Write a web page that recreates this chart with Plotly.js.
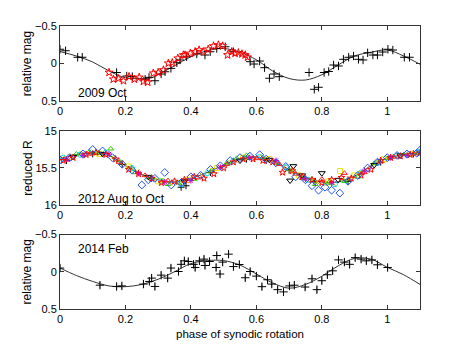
<!DOCTYPE html>
<html>
<head>
<meta charset="utf-8">
<script src="https://cdn.plot.ly/plotly-3.0.1.min.js"></script>
<style>
  html, body { margin: 0; padding: 0; background: #fff; }
  #plot { width: 463px; height: 348px; }
</style>
</head>
<body>
<div id="plot"></div>
<script>
// three lightcurves folded on the synodic period

// --- 2009 Oct ---
let fit09Phase = [0, 0.05, 0.1, 0.15, 0.2, 0.25, 0.28, 0.3, 0.35, 0.4, 0.45, 0.5, 0.55, 0.6, 0.65, 0.7, 0.75, 0.8, 0.85, 0.9, 0.95, 1.0, 1.05, 1.1]
let fit09Mag = [-0.16, -0.10, -0.02, 0.10, 0.19, 0.20, 0.19, 0.15, 0.03, -0.09, -0.17, -0.20, -0.15, -0.05, 0.10, 0.20, 0.22, 0.15, 0.02, -0.10, -0.15, -0.18, -0.10, 0.01]

let blk09Phase = [0, 0.017, 0.054, 0.068, 0.173, 0.204, 0.221, 0.26, 0.272, 0.29, 0.309, 0.321, 0.339, 0.357, 0.367, 0.387, 0.418, 0.443, 0.459, 0.479, 0.505, 0.53, 0.581, 0.593, 0.61, 0.625, 0.64, 0.654, 0.67, 0.761, 0.777, 0.79, 0.807, 0.821, 0.836, 0.851, 0.866, 0.882, 0.897, 0.912, 0.926, 0.94, 0.956, 0.97, 0.986, 1.002, 1.017, 1.052, 1.068]
let blk09Mag = [-0.19, -0.17, -0.083, -0.083, 0.12, 0.167, 0.175, 0.21, 0.185, 0.23, 0.14, 0.11, 0.065, -0.01, -0.047, -0.09, -0.127, -0.113, -0.157, -0.2, -0.223, -0.157, -0.024, 0.007, -0.033, 0.056, 0.197, 0.14, 0.176, 0.12, 0.344, 0.317, 0.12, 0.107, 0.02, 0.033, -0.056, -0.083, -0.1, -0.056, -0.047, -0.143, -0.113, -0.113, -0.153, -0.19, -0.18, -0.083, -0.083]

let red09Phase = [0.15, 0.163, 0.178, 0.194, 0.211, 0.227, 0.242, 0.255, 0.268, 0.285, 0.3, 0.316, 0.331, 0.343, 0.36, 0.377, 0.382, 0.398, 0.413, 0.425, 0.438, 0.453, 0.469, 0.484, 0.497, 0.512, 0.525, 0.535, 0.545, 0.556, 0.566, 0.573]
let red09Mag = [0.12, 0.21, 0.2, 0.23, 0.175, 0.21, 0.185, 0.24, 0.25, 0.13, 0.12, 0.087, -0.003, -0.01, -0.07, -0.113, -0.113, -0.135, -0.157, -0.18, -0.157, -0.19, -0.233, -0.247, -0.233, -0.113, -0.157, -0.135, -0.143, -0.127, -0.113, -0.083]

// --- 2012 Aug to Oct (reduced R) ---
let fit12Phase = [0, 0.05, 0.1, 0.15, 0.2, 0.25, 0.3, 0.35, 0.4, 0.45, 0.5, 0.55, 0.6, 0.65, 0.7, 0.75, 0.8, 0.85, 0.9, 0.95, 1.0, 1.05, 1.1]
let fit12R = [15.38, 15.32, 15.29, 15.33, 15.47, 15.59, 15.66, 15.69, 15.64, 15.56, 15.46, 15.38, 15.35, 15.41, 15.52, 15.63, 15.69, 15.69, 15.61, 15.47, 15.37, 15.32, 15.29]

let bluePhase = [0, 0.03, 0.07, 0.1, 0.13, 0.16, 0.19, 0.22, 0.25, 0.27, 0.29, 0.32, 0.34, 0.37, 0.4, 0.43, 0.46, 0.49, 0.52, 0.55, 0.58, 0.61, 0.63, 0.66, 0.69, 0.72, 0.75, 0.77, 0.79, 0.81, 0.83, 0.855, 0.88, 0.91, 0.94, 0.97, 1.0, 1.03, 1.06, 1.09, 1.1]
let blueR = [15.39, 15.36, 15.31, 15.25, 15.27, 15.36, 15.45, 15.53, 15.73, 15.66, 15.64, 15.56, 15.73, 15.7, 15.62, 15.6, 15.52, 15.47, 15.4, 15.36, 15.34, 15.32, 15.38, 15.43, 15.48, 15.62, 15.66, 15.74, 15.8, 15.76, 15.8, 15.84, 15.68, 15.6, 15.5, 15.42, 15.36, 15.33, 15.31, 15.3, 15.26]

let redPhase = [0.01, 0.04, 0.08, 0.11, 0.14, 0.17, 0.21, 0.24, 0.28, 0.31, 0.35, 0.38, 0.41, 0.44, 0.47, 0.5, 0.53, 0.56, 0.59, 0.62, 0.65, 0.68, 0.71, 0.74, 0.77, 0.8, 0.83, 0.86, 0.89, 0.92, 0.95, 0.98, 1.01, 1.04, 1.07, 1.1]
let redR = [15.4, 15.36, 15.32, 15.29, 15.32, 15.38, 15.52, 15.58, 15.64, 15.7, 15.68, 15.66, 15.62, 15.64, 15.58, 15.5, 15.42, 15.38, 15.38, 15.4, 15.42, 15.56, 15.54, 15.62, 15.66, 15.7, 15.66, 15.63, 15.64, 15.6, 15.52, 15.4, 15.36, 15.34, 15.32, 15.3]

let redTriPhase = [0.02, 0.09, 0.18, 0.26, 0.33, 0.42, 0.51, 0.6, 0.67, 0.72, 0.8, 0.869, 0.93, 1.02, 1.08]
let redTriR = [15.39, 15.31, 15.42, 15.6, 15.67, 15.63, 15.45, 15.37, 15.45, 15.58, 15.65, 15.57, 15.56, 15.35, 15.31]

let greenPhase = [0, 0.05, 0.09, 0.12, 0.155, 0.18, 0.23, 0.28, 0.33, 0.36, 0.41, 0.46, 0.51, 0.54, 0.57, 0.62, 0.66, 0.7, 0.74, 0.78, 0.82, 0.87, 0.91, 0.96, 1.0, 1.05, 1.09]
let greenR = [15.37, 15.31, 15.28, 15.3, 15.24, 15.4, 15.56, 15.63, 15.72, 15.7, 15.65, 15.55, 15.43, 15.37, 15.33, 15.36, 15.43, 15.52, 15.64, 15.72, 15.7, 15.68, 15.62, 15.44, 15.37, 15.32, 15.3]

let limePhase = [0.015, 0.065, 0.115, 0.165, 0.215, 0.265, 0.315, 0.365, 0.415, 0.465, 0.515, 0.565, 0.615, 0.665, 0.715, 0.765, 0.815, 0.865, 0.915, 0.965, 1.015, 1.065]
let limeR = [15.37, 15.31, 15.29, 15.36, 15.5, 15.62, 15.67, 15.7, 15.63, 15.53, 15.43, 15.37, 15.35, 15.43, 15.55, 15.66, 15.71, 15.67, 15.57, 15.43, 15.35, 15.31]

let orangePhase = [0.035, 0.085, 0.135, 0.185, 0.235, 0.285, 0.335, 0.385, 0.435, 0.485, 0.535, 0.585, 0.635, 0.685, 0.735, 0.785, 0.835, 0.885, 0.935, 0.985, 1.035, 1.085]
let orangeR = [15.35, 15.3, 15.31, 15.43, 15.55, 15.65, 15.7, 15.67, 15.6, 15.5, 15.4, 15.36, 15.38, 15.49, 15.6, 15.69, 15.71, 15.64, 15.52, 15.4, 15.33, 15.3]

let yellowPhase = [0.03, 0.12, 0.21, 0.3, 0.39, 0.48, 0.56, 0.64, 0.73, 0.82, 0.856, 0.9, 0.99, 1.07]
let yellowR = [15.35, 15.31, 15.48, 15.68, 15.66, 15.5, 15.36, 15.38, 15.6, 15.68, 15.54, 15.6, 15.38, 15.31]

let cyanPhase = [0.01, 0.06, 0.14, 0.22, 0.31, 0.37, 0.45, 0.53, 0.61, 0.69, 0.76, 0.84, 0.92, 0.97, 1.03, 1.1]
let cyanR = [15.36, 15.32, 15.29, 15.5, 15.68, 15.72, 15.57, 15.4, 15.35, 15.49, 15.66, 15.72, 15.56, 15.43, 15.33, 15.28]

let magentaPhase = [0.02, 0.07, 0.15, 0.24, 0.32, 0.4, 0.49, 0.58, 0.66, 0.75, 0.83, 0.93, 1.01, 1.06]
let magentaR = [15.38, 15.33, 15.31, 15.57, 15.69, 15.67, 15.49, 15.36, 15.4, 15.65, 15.7, 15.54, 15.36, 15.33]

let triDownPhase = [0.04, 0.13, 0.27, 0.38, 0.55, 0.64, 0.703, 0.713, 0.74, 0.8, 0.85, 0.96, 1.04]
let triDownR = [15.35, 15.31, 15.62, 15.68, 15.4, 15.39, 15.67, 15.475, 15.6, 15.57, 15.66, 15.46, 15.33]

let crossPhase = [0.02, 0.1, 0.19, 0.28, 0.37, 0.385, 0.46, 0.57, 0.63, 0.7, 0.78, 0.88, 0.98, 1.08]
let crossR = [15.4, 15.31, 15.45, 15.64, 15.76, 15.74, 15.56, 15.38, 15.4, 15.53, 15.68, 15.68, 15.42, 15.31]

// --- 2014 Feb ---
let fit14Phase = [0, 0.05, 0.1, 0.15, 0.2, 0.25, 0.3, 0.35, 0.4, 0.45, 0.5, 0.55, 0.6, 0.65, 0.7, 0.75, 0.8, 0.85, 0.9, 0.95, 1.0, 1.05, 1.1]
let fit14Mag = [-0.05, 0.05, 0.13, 0.19, 0.2, 0.17, 0.1, 0.0, -0.11, -0.15, -0.15, -0.09, 0.03, 0.15, 0.22, 0.17, 0.06, -0.08, -0.18, -0.17, -0.06, 0.04, 0.17]

let obs14Phase = [0, 0.122, 0.173, 0.189, 0.255, 0.273, 0.28, 0.29, 0.309, 0.329, 0.339, 0.362, 0.37, 0.38, 0.392, 0.408, 0.413, 0.426, 0.44, 0.443, 0.457, 0.479, 0.477, 0.489, 0.497, 0.515, 0.53, 0.548, 0.566, 0.581, 0.6, 0.617, 0.634, 0.647, 0.665, 0.683, 0.701, 0.716, 0.749, 0.77, 0.785, 0.8, 0.817, 0.833, 0.851, 0.869, 0.885, 0.902, 0.92, 0.936, 0.953, 0.97, 1.001]
let obs14Mag = [-0.05, 0.18, 0.197, 0.19, 0.165, 0.13, 0.085, 0.197, 0.045, 0.085, -0.05, -0.004, -0.1, -0.147, -0.138, -0.1, -0.058, -0.147, -0.17, -0.085, -0.138, -0.218, -0.058, 0.03, -0.13, -0.237, -0.07, -0.098, 0.08, -0.004, 0.058, 0.2, 0.107, 0.165, 0.24, 0.27, 0.19, 0.18, 0.205, 0.094, 0.24, 0.12, 0.04, -0.013, -0.16, -0.13, -0.1, -0.19, -0.17, -0.147, -0.16, -0.094, -0.058]
let obs14Err = obs14Phase.map(() => 0.045)

let xTicks = [0, 0.2, 0.4, 0.6, 0.8, 1]

const font = {family: 'Liberation Sans, Arial, sans-serif', size: 11, color: '#000'}

function mk(x, y, color, symbol, size, xa, ya) {
    return {
        x: x, y: y, xaxis: xa, yaxis: ya,
        type: 'scatter', mode: 'markers',
        marker: {symbol: symbol, size: size, color: color, line: {color: color, width: 1}},
        showlegend: false, hoverinfo: 'skip'
    }
}

function fitLine(x, y, xa, ya) {
    return {
        x: x, y: y, xaxis: xa, yaxis: ya,
        type: 'scatter', mode: 'lines',
        line: {color: '#333', width: 1, shape: 'spline', smoothing: 1},
        showlegend: false, hoverinfo: 'skip'
    }
}

let data = [
    fitLine(fit09Phase, fit09Mag, 'x', 'y'),
    mk(blk09Phase, blk09Mag, '#000', 'cross-thin-open', 6, 'x', 'y'),
    mk(red09Phase, red09Mag, '#ff0000', 'star-open', 6, 'x', 'y'),

    fitLine(fit12Phase, fit12R, 'x2', 'y2'),
    mk(crossPhase, crossR, '#000', 'cross-thin-open', 5, 'x2', 'y2'),
    mk(yellowPhase, yellowR, '#e8e800', 'square-open', 5, 'x2', 'y2'),
    mk(orangePhase, orangeR, '#ff8000', 'x-thin-open', 5, 'x2', 'y2'),
    mk(cyanPhase, cyanR, '#00e0e0', 'circle-open', 5, 'x2', 'y2'),
    mk(limePhase, limeR, '#a0e000', 'circle-open', 4, 'x2', 'y2'),
    mk(greenPhase, greenR, '#30d000', 'triangle-up-open', 5, 'x2', 'y2'),
    mk(magentaPhase, magentaR, '#d000d0', 'asterisk-open', 5, 'x2', 'y2'),
    mk(triDownPhase, triDownR, '#000', 'triangle-down-open', 6, 'x2', 'y2'),
    mk(redTriPhase, redTriR, '#ff2020', 'triangle-up-open', 5, 'x2', 'y2'),
    mk(redPhase, redR, '#ff0000', 'star-open', 5, 'x2', 'y2'),
    mk(bluePhase, blueR, '#2050ff', 'diamond-open', 6, 'x2', 'y2'),

    fitLine(fit14Phase, fit14Mag, 'x3', 'y3'),
    {
        x: obs14Phase, y: obs14Mag, xaxis: 'x3', yaxis: 'y3',
        type: 'scatter', mode: 'markers',
        marker: {symbol: 'cross-thin-open', size: 6, color: '#000', line: {color: '#000', width: 1}},
        error_y: {type: 'data', array: obs14Err, visible: true, color: '#888', thickness: 1, width: 0},
        showlegend: false, hoverinfo: 'skip'
    }
]

function xax(anchor) {
    return {
        anchor: anchor, domain: [0, 1], range: [0, 1.1],
        tickvals: xTicks, ticks: 'inside', ticklen: 4, tickcolor: '#333',
        showline: true, linecolor: '#333', linewidth: 1, mirror: 'ticks',
        showgrid: false, zeroline: false, tickfont: font
    }
}

function yax(anchor, dom, range, tv, title) {
    return {
        anchor: anchor, domain: dom, range: range,
        tickvals: tv, ticks: 'inside', ticklen: 4, tickcolor: '#333',
        showline: true, linecolor: '#333', linewidth: 1, mirror: 'ticks',
        showgrid: false, zeroline: false, tickfont: font,
        title: {text: title, font: {family: font.family, size: 12, color: '#000'}, standoff: 0}
    }
}

let layout = {
    width: 463, height: 348,
    paper_bgcolor: '#fff', plot_bgcolor: '#fff',
    margin: {l: 60, r: 43, t: 26, b: 39},
    font: font,
    xaxis: xax('y'),
    xaxis2: xax('y2'),
    xaxis3: Object.assign(xax('y3'), {title: {text: 'phase of synodic rotation', font: {family: font.family, size: 11.5, color: '#000'}, standoff: 5}}),
    yaxis: yax('x', [0.735, 1], [0.5, -0.5], [-0.5, 0, 0.5], 'relative mag'),
    yaxis2: yax('x2', [0.3675, 0.629], [16, 15], [15, 15.5, 16], 'reduced R'),
    yaxis3: yax('x3', [0, 0.263], [0.5, -0.5], [-0.5, 0, 0.5], 'relative mag'),
    annotations: [
        {text: '2009 Oct', xref: 'x', yref: 'y', x: 0.05, y: 0.39, xanchor: 'left', yanchor: 'middle', showarrow: false, font: {family: font.family, size: 12, color: '#000'}},
        {text: '2012 Aug to Oct', xref: 'x2', yref: 'y2', x: 0.05, y: 15.92, xanchor: 'left', yanchor: 'middle', showarrow: false, font: {family: font.family, size: 12, color: '#000'}},
        {text: '2014 Feb', xref: 'x3', yref: 'y3', x: 0.05, y: -0.31, xanchor: 'left', yanchor: 'middle', showarrow: false, font: {family: font.family, size: 12, color: '#000'}}
    ]
}

Plotly.newPlot('plot', data, layout, {staticPlot: true})
</script>
</body>
</html>
